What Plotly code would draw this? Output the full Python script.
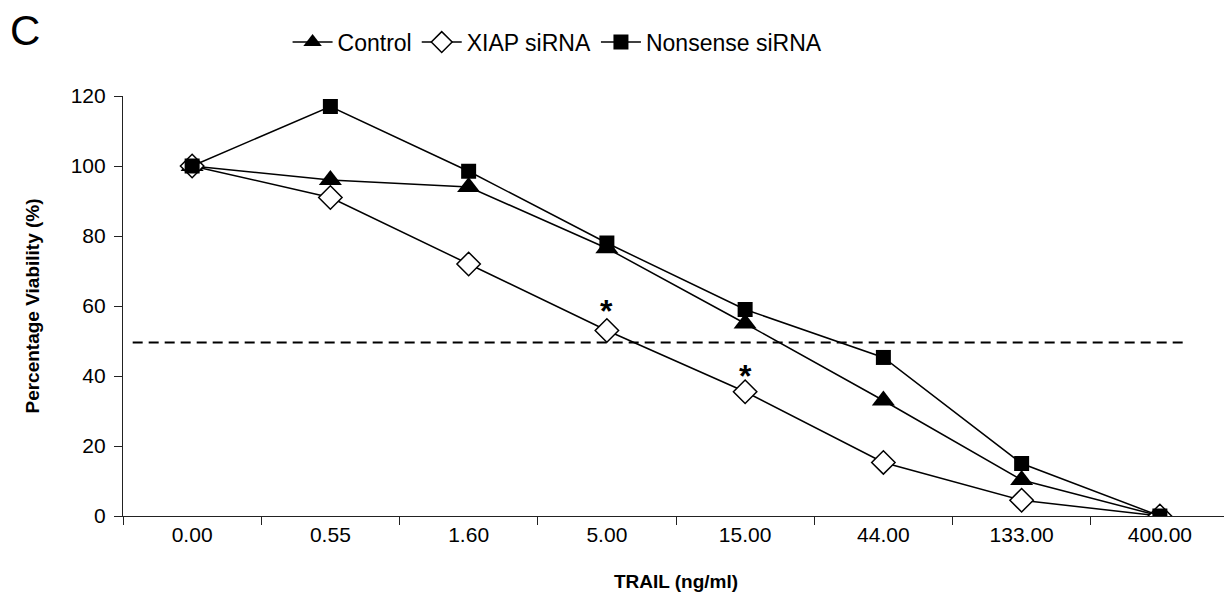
import plotly.graph_objects as go

categories = ["0.00", "0.55", "1.60", "5.00", "15.00", "44.00", "133.00", "400.00"]
control = [100, 96, 94, 76.5, 55, 33, 10.3, 0]
xiap = [100, 91, 72, 53, 35.5, 15.3, 4.5, 0]
nonsense = [100, 117, 98.5, 78, 59, 45.3, 15, 0]
threshold = 49.6
star_categories = ["5.00", "15.00"]
star_values = [58.5, 40]
y_ticks = [0, 20, 40, 60, 80, 100, 120]

FONT = "Liberation Sans, Arial, sans-serif"

fig = go.Figure()
fig.add_trace(go.Scatter(
    x=categories, y=control, name="Control", mode="lines+markers",
    line=dict(color="black", width=1.5),
    marker=dict(symbol="triangle-up", size=20, color="black"),
))
fig.add_trace(go.Scatter(
    x=categories, y=xiap, name="XIAP siRNA", mode="lines+markers",
    line=dict(color="black", width=1.5),
    marker=dict(symbol="diamond", size=18, color="white",
                line=dict(color="black", width=1.5)),
))
fig.add_trace(go.Scatter(
    x=categories, y=nonsense, name="Nonsense siRNA", mode="lines+markers",
    line=dict(color="black", width=1.5),
    marker=dict(symbol="square", size=15, color="black"),
))

fig.add_shape(type="line", xref="x", yref="y", x0=-0.43, x1=7.19,
              y0=threshold, y1=threshold,
              line=dict(color="black", width=2, dash="10px,6px"), layer="below")

for c, v in zip(star_categories, star_values):
    fig.add_annotation(x=categories.index(c), y=v, text="<b>*</b>", showarrow=False,
                       font=dict(family=FONT, size=32, color="black"),
                       yanchor="middle", xanchor="center")

fig.add_annotation(xref="paper", yref="paper", x=-0.0885, y=1.157, text="C",
                   showarrow=False, font=dict(family=FONT, size=42, color="black"),
                   xanchor="center", yanchor="middle")

fig.update_layout(
    width=1224, height=598,
    margin=dict(l=115, r=3, t=88, b=90, autoexpand=False),
    paper_bgcolor="white", plot_bgcolor="white",
    font=dict(family=FONT, size=20, color="black"),
    showlegend=True,
    legend=dict(orientation="h", xref="container", yref="container",
                x=0.449, y=0.943, xanchor="center", yanchor="middle",
                font=dict(family=FONT, size=23), bgcolor="rgba(0,0,0,0)",
                itemwidth=40),
    xaxis=dict(
        type="category", categoryorder="array", categoryarray=categories,
        range=[-0.5, 7.5], showgrid=False, zeroline=False,
        showline=True, linecolor="#222", linewidth=1.2,
        ticks="outside", tickson="boundaries", ticklen=8, tickcolor="#222",
        tickfont=dict(family=FONT, size=21),
        title=dict(text="<b>TRAIL (ng/ml)</b>", font=dict(family=FONT, size=19), standoff=29),
        automargin=False,
    ),
    yaxis=dict(
        range=[0, 120], tickvals=y_ticks, showgrid=False, zeroline=False,
        showline=True, linecolor="#222", linewidth=1.2,
        ticks="outside", ticklen=8, tickcolor="#222", ticklabelstandoff=4,
        tickfont=dict(family=FONT, size=21),
        title=dict(text="<b>Percentage Viability (%)</b>", font=dict(family=FONT, size=19), standoff=26),
        automargin=False,
    ),
)

fig.write_html("out.html")
